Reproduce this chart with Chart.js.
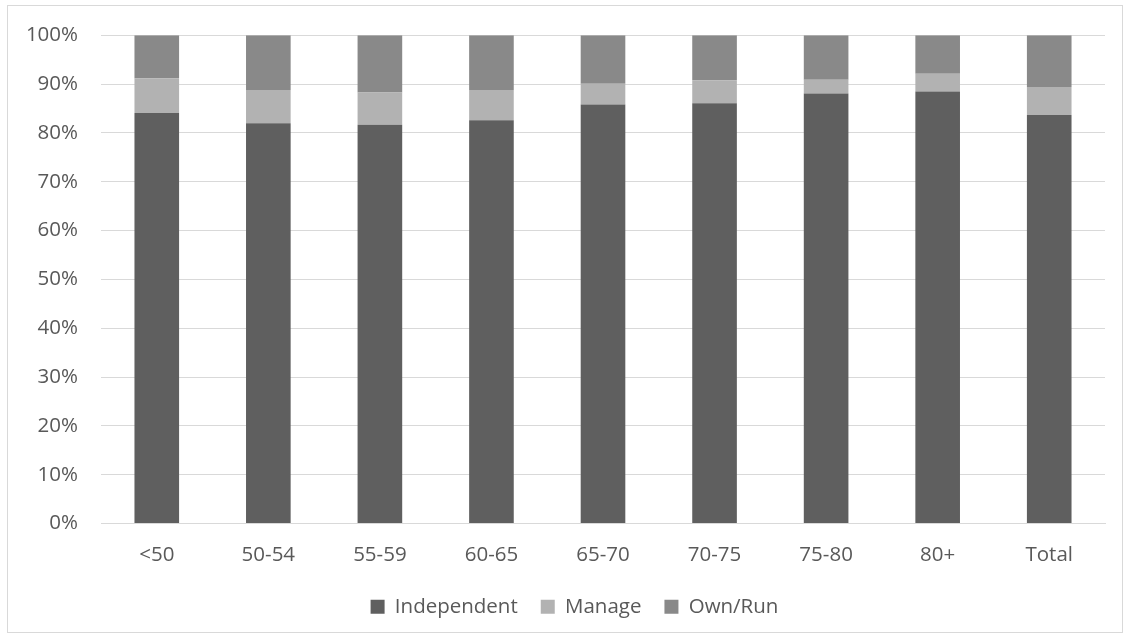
<!DOCTYPE html>
<html>
<head>
<meta charset="utf-8">
<script src="https://cdn.jsdelivr.net/npm/chart.js@4"></script>
<style>
  html, body { margin: 0; padding: 0; background: #ffffff; }
  #wrap { position: relative; width: 1132px; height: 641px; }
  #frame { position: absolute; left: 7px; top: 5px; width: 1116px; height: 628px; border: 1px solid #d9d9d9; box-sizing: border-box; pointer-events: none; }
  canvas { position: absolute; left: 0; top: 0; }
</style>
</head>
<body>
<div id="wrap">
  <canvas id="c" width="1132" height="641"></canvas>
  <div id="frame"></div>
</div>
<script>
const categories = ['<50', '50-54', '55-59', '60-65', '65-70', '70-75', '75-80', '80+', 'Total'];
const independent = [84.1, 82.0, 81.7, 82.6, 85.8, 86.1, 88.1, 88.5, 83.7];
const manage      = [7.1, 6.8, 6.6, 6.2, 4.3, 4.7, 2.8, 3.6, 5.7];
const ownRun      = [8.8, 11.2, 11.7, 11.2, 9.9, 9.2, 9.1, 7.9, 10.6];
const yTicks = [0, 10, 20, 30, 40, 50, 60, 70, 80, 90, 100];

const FONT = "'Open Sans', sans-serif";
const TEXT = '#595959';
const FS = 20.5;

const shiftLegend = {
  id: 'shiftLegend',
  afterLayout(chart) {
    const lg = chart.legend;
    if (lg) { lg.left += 22; lg.right += 22; }
  }
};

new Chart(document.getElementById('c'), {
  type: 'bar',
  data: {
    labels: categories,
    datasets: [
      { label: 'Independent', data: independent, backgroundColor: '#5f5f5f', barPercentage: 0.4, categoryPercentage: 1.0 },
      { label: 'Manage', data: manage, backgroundColor: '#b2b2b2', barPercentage: 0.4, categoryPercentage: 1.0 },
      { label: 'Own/Run', data: ownRun, backgroundColor: '#898989', barPercentage: 0.4, categoryPercentage: 1.0 }
    ]
  },
  plugins: [shiftLegend],
  options: {
    responsive: false,
    animation: false,
    devicePixelRatio: 1,
    layout: { padding: { left: 0, right: 27, top: 27, bottom: 14 } },
    plugins: {
      legend: {
        position: 'bottom',
        labels: {
          color: TEXT,
          font: { family: FONT, size: FS },
          boxWidth: 14,
          boxHeight: 14,
          padding: 23
        }
      },
      tooltip: { enabled: false }
    },
    scales: {
      x: {
        stacked: true,
        grid: { display: false, drawTicks: false },
        border: { display: true, color: '#d9d9d9', width: 1 },
        ticks: { color: TEXT, font: { family: FONT, size: FS }, padding: 19, maxRotation: 0 },
        afterFit: (s) => { s.height = 50; }
      },
      y: {
        stacked: true,
        min: 0,
        max: 100,
        afterBuildTicks: (s) => { s.ticks = yTicks.map(v => ({ value: v })); },
        grid: { color: '#d9d9d9', drawTicks: false },
        border: { display: false },
        ticks: { color: TEXT, font: { family: FONT, size: FS }, padding: 23, callback: (v) => v + '%' },
        afterFit: (s) => { s.width = 101; }
      }
    }
  }
});
</script>
</body>
</html>
